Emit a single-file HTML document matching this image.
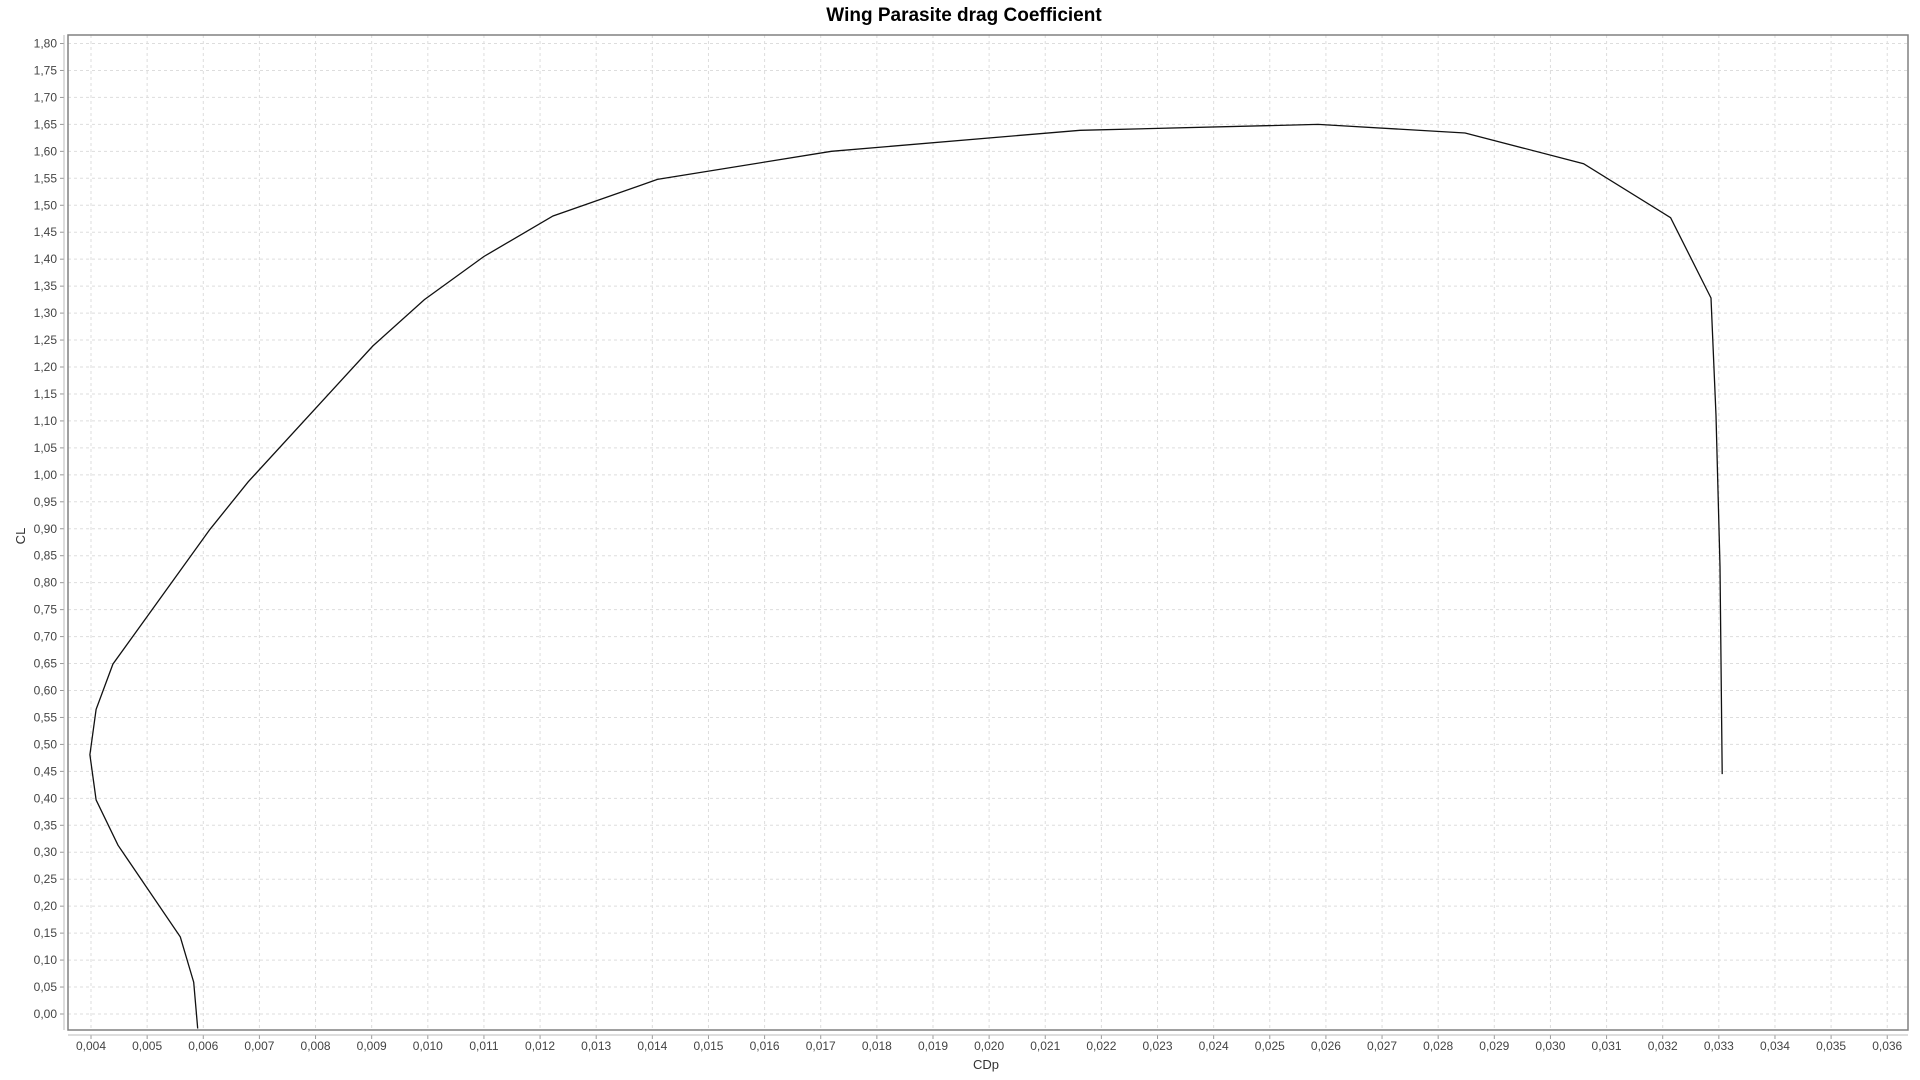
<!DOCTYPE html>
<html><head><meta charset="utf-8"><style>
html,body{margin:0;padding:0;background:#fff;}
svg{display:block;font-family:"Liberation Sans","DejaVu Sans",sans-serif;}
</style></head><body>
<svg id="chart" width="1920" height="1080">
<text x="964" y="21" text-anchor="middle" font-size="19" font-weight="bold" fill="#000">Wing Parasite drag Coefficient</text>
<g id="grid"></g>
<g id="axes"></g>
<g id="series"></g>
<text x="986" y="1069" text-anchor="middle" font-size="13" fill="#333">CDp</text>
<text transform="translate(25,536) rotate(-90)" text-anchor="middle" font-size="13" fill="#333">CL</text>
</svg>
<script>
const cdp=[0.0059,0.00583,0.00559,0.00448,0.00409,0.00398,0.00409,0.00439,0.00612,0.0068,0.00902,0.00994,0.0110,0.01223,0.01409,0.01719,0.02162,0.02586,0.02848,0.03059,0.03214,0.03286,0.03295,0.03302,0.03306];
const cl=[-0.027,0.059,0.143,0.313,0.397,0.481,0.565,0.649,0.899,0.987,1.239,1.325,1.405,1.480,1.548,1.600,1.639,1.650,1.634,1.577,1.477,1.328,1.11,0.83,0.445];
const xTicks=[];for(let i=4;i<=36;i++)xTicks.push(i/1000);
const yTicks=[];for(let i=0;i<=36;i++)yTicks.push(i*0.05);
const L=68,R=1908,T=35,B=1030;
const xmin=0.00359,xmax=0.03637,ymin=-0.0297,ymax=1.8158;
const sx=v=>L+(v-xmin)/(xmax-xmin)*(R-L);
const sy=v=>B-(v-ymin)/(ymax-ymin)*(B-T);
const NS="http://www.w3.org/2000/svg";
function mk(t,a,p){const e=document.createElementNS(NS,t);for(const k in a)e.setAttribute(k,a[k]);p.appendChild(e);return e;}
const grid=document.getElementById('grid'),axes=document.getElementById('axes'),ser=document.getElementById('series');
xTicks.forEach(v=>{const x=sx(v);
 const g=mk('line',{x1:x,x2:x,y1:T,y2:B,stroke:'#ddd','stroke-dasharray':'3,3'},grid);
 
 
 mk('line',{x1:x,x2:x,y1:1035,y2:1039,stroke:'#999'},axes);
 const t=mk('text',{x:x,y:1050,'text-anchor':'middle','font-size':'12',fill:'#444'},axes);
 t.textContent=v.toFixed(3).replace('.',',');
 
 
});
yTicks.forEach(v=>{const y=sy(v);
 const g=mk('line',{x1:L,x2:R,y1:y,y2:y,stroke:'#ddd','stroke-dasharray':'3,3'},grid);
 
 
 mk('line',{x1:60,x2:64,y1:y,y2:y,stroke:'#999'},axes);
 const t=mk('text',{x:57,y:y+4,'text-anchor':'end','font-size':'12',fill:'#444'},axes);
 t.textContent=v.toFixed(2).replace('.',',');
 
 
});
mk('rect',{x:L,y:T,width:R-L,height:B-T,fill:'none',stroke:'#808080','stroke-width':1.5},axes);
mk('line',{x1:64,x2:64,y1:T,y2:B,stroke:'#bbb'},axes);
mk('line',{x1:L,x2:R,y1:1035,y2:1035,stroke:'#bbb'},axes);
const pts=cdp.map((v,i)=>sx(v).toFixed(1)+','+sy(cl[i]).toFixed(1)).join(' ');
const pl=mk('polyline',{points:pts,fill:'none',stroke:'#111','stroke-width':1.3},ser);


</script>
</body></html>
